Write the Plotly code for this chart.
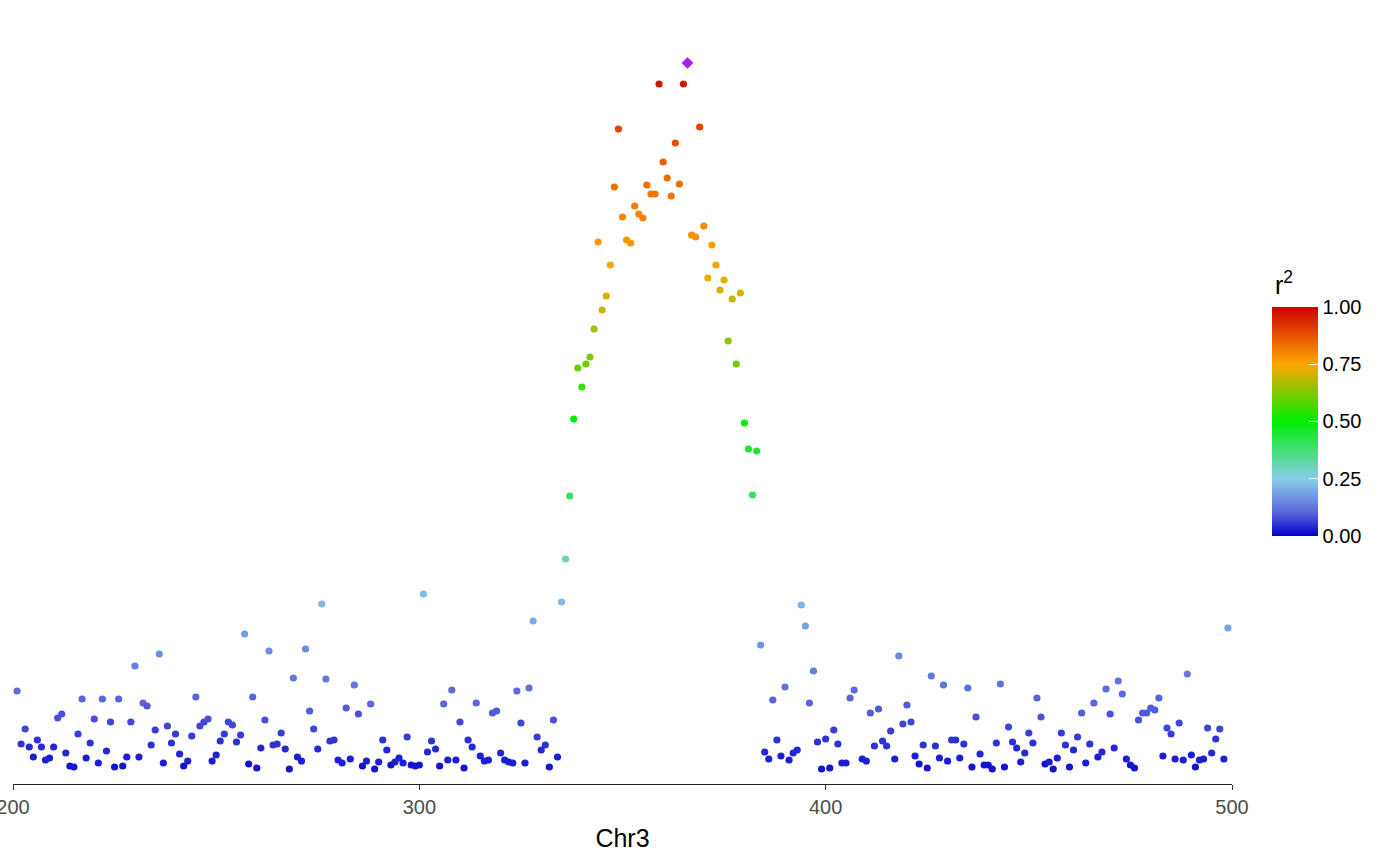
import plotly.graph_objects as go

# ---- data ----
left_pos = [201,202,203,204,205,206,207,208,209,210,211,212,213,214,215,216,217,218,219,220,
            221,222,223,224,225,226,227,228,229,230,231,232,233,234,235,236,237,238,239,240,
            241,242,243,244,245,246,247,248,249,250,251,252,253,254,255,256,257,258,259,260,
            261,262,263,264,265,266,267,268,269,270,271,272,273,274,275,276,277,278,279,280,
            281,282,283,284,285,286,287,288,289,290,291,292,293,294,295,296,297,298,299,300,
            301,302,303,304,305,306,307,308,309,310,311,312,313,314,315,316,317,318,319,320,
            321,322,323,324,325,326,327,328,329,330,331,332,333,334,335]
left_logp = [0.93,0.40,0.55,0.37,0.27,0.44,0.37,0.24,0.26,0.37,
             0.66,0.70,0.31,0.18,0.17,0.50,0.85,0.26,0.41,0.65,
             0.21,0.85,0.33,0.62,0.17,0.85,0.18,0.27,0.62,1.18,
             0.27,0.81,0.78,0.39,0.54,1.30,0.21,0.58,0.41,0.50,
             0.30,0.18,0.23,0.48,0.87,0.58,0.62,0.65,0.23,0.29,
             0.43,0.50,0.62,0.59,0.42,0.49,1.50,0.20,0.87,0.16,
             0.36,0.64,1.33,0.39,0.40,0.51,0.35,0.15,1.06,0.27,
             0.23,1.35,0.73,0.55,0.35,1.80,1.05,0.43,0.44,0.24,
             0.21,0.76,0.25,0.99,0.70,0.18,0.23,0.80,0.15,0.22,
             0.44,0.34,0.19,0.22,0.26,0.21,0.47,0.19,0.18,0.19,
             1.90,0.32,0.43,0.35,0.18,0.80,0.24,0.94,0.24,0.62,
             0.16,0.44,0.37,0.81,0.28,0.23,0.24,0.71,0.73,0.31,
             0.24,0.22,0.21,0.93,0.61,0.21,0.96,1.63,0.47,0.34,
             0.39,0.17,0.64,0.27,1.82]
left_r2 = [0.11,0.05,0.07,0.04,0.03,0.05,0.04,0.03,0.03,0.04,
           0.08,0.08,0.04,0.02,0.02,0.06,0.10,0.03,0.05,0.08,
           0.03,0.10,0.04,0.07,0.02,0.10,0.02,0.03,0.07,0.14,
           0.03,0.10,0.09,0.05,0.06,0.16,0.03,0.07,0.05,0.06,
           0.04,0.02,0.03,0.06,0.10,0.07,0.07,0.08,0.03,0.03,
           0.05,0.06,0.07,0.07,0.05,0.06,0.18,0.02,0.10,0.02,
           0.04,0.08,0.16,0.05,0.05,0.06,0.04,0.02,0.13,0.03,
           0.03,0.16,0.09,0.07,0.04,0.22,0.13,0.05,0.05,0.03,
           0.03,0.09,0.03,0.12,0.08,0.02,0.03,0.10,0.02,0.03,
           0.05,0.04,0.02,0.03,0.03,0.03,0.06,0.02,0.02,0.02,
           0.23,0.04,0.05,0.04,0.02,0.10,0.03,0.11,0.03,0.07,
           0.02,0.05,0.04,0.10,0.03,0.03,0.03,0.09,0.09,0.04,
           0.03,0.03,0.03,0.11,0.07,0.03,0.12,0.20,0.06,0.04,
           0.05,0.02,0.08,0.03,0.22]

peak_pos = [336,337,338,339,340,341,342,343,344,345,
            346,347,348,349,350,351,352,353,354,355,
            356,357,358,359,360,361,362,363,364,365,
            367,368,369,370,371,372,373,374,375,376,
            377,378,379,380,381,382,383]
peak_logp = [2.25,2.88,3.65,4.16,3.97,4.20,4.27,4.55,5.42,4.74,
             4.88,5.19,5.97,6.55,5.67,5.44,5.41,5.78,5.70,5.66,
             5.99,5.90,5.90,7.00,6.22,6.06,5.88,6.41,6.00,7.00,
             5.49,5.47,6.57,5.58,5.06,5.39,5.19,4.94,5.04,4.43,
             4.85,4.20,4.91,3.61,3.35,2.89,3.33]
peak_r2 = [0.30,0.40,0.50,0.60,0.56,0.61,0.62,0.66,0.77,0.69,
           0.71,0.74,0.83,0.90,0.80,0.77,0.77,0.81,0.80,0.80,
           0.83,0.82,0.82,0.97,0.86,0.84,0.82,0.88,0.83,0.97,
           0.78,0.78,0.90,0.79,0.73,0.76,0.74,0.71,0.72,0.64,
           0.70,0.61,0.71,0.50,0.45,0.40,0.45]

right_pos = [384,385,386,387,388,389,390,391,392,393,
             394,395,396,397,398,399,400,401,402,403,
             404,405,406,407,
             409,410,411,412,413,414,415,416,417,418,
             419,420,421,422,423,424,425,426,427,428,
             429,430,431,432,433,434,435,436,437,438,
             439,440,441,442,443,444,445,446,447,448,
             449,450,451,452,453,454,455,456,457,458,
             459,460,461,462,463,464,465,466,467,468,
             469,470,471,472,473,474,475,476,477,478,
             479,480,481,482,483,484,485,486,487,488,
             489,490,491,492,493,494,495,496,497,498,499]
right_logp = [1.39,0.32,0.25,0.84,0.44,0.28,0.97,0.24,0.31,0.34,
              1.79,1.58,0.81,1.13,0.42,0.15,0.45,0.16,0.54,0.40,
              0.21,0.21,0.86,0.94,
              0.25,0.23,0.71,0.38,0.75,0.43,0.38,0.53,0.25,1.28,
              0.60,0.79,0.62,0.28,0.20,0.39,0.16,1.08,0.38,0.26,
              0.99,0.23,0.44,0.44,0.26,0.40,0.96,0.17,0.67,0.30,
              0.19,0.19,0.15,0.41,1.00,0.17,0.57,0.42,0.36,0.22,
              0.31,0.51,0.41,0.86,0.67,0.20,0.22,0.15,0.26,0.51,
              0.39,0.17,0.34,0.47,0.71,0.21,0.40,0.81,0.27,0.32,
              0.95,0.70,0.36,1.03,0.90,0.25,0.19,0.16,0.64,0.71,
              0.71,0.76,0.74,0.86,0.28,0.56,0.50,0.25,0.61,0.24,
              1.10,0.29,0.17,0.24,0.25,0.56,0.31,0.45,0.55,0.25,1.56]
right_r2 = [0.17,0.04,0.03,0.10,0.05,0.03,0.12,0.03,0.04,0.04,
            0.21,0.19,0.10,0.14,0.05,0.02,0.05,0.02,0.06,0.05,
            0.03,0.03,0.10,0.11,
            0.03,0.03,0.09,0.05,0.09,0.05,0.05,0.06,0.03,0.15,
            0.07,0.09,0.07,0.03,0.02,0.05,0.02,0.13,0.05,0.03,
            0.12,0.03,0.05,0.05,0.03,0.05,0.12,0.02,0.08,0.04,
            0.02,0.02,0.02,0.05,0.12,0.02,0.07,0.05,0.04,0.03,
            0.04,0.06,0.05,0.10,0.08,0.02,0.03,0.02,0.03,0.06,
            0.05,0.02,0.04,0.06,0.09,0.03,0.05,0.10,0.03,0.04,
            0.11,0.08,0.04,0.12,0.11,0.03,0.02,0.02,0.08,0.09,
            0.09,0.09,0.09,0.10,0.03,0.07,0.06,0.03,0.07,0.03,
            0.13,0.03,0.02,0.03,0.03,0.07,0.04,0.05,0.07,0.03,0.19]

lead_pos = [366]
lead_logp = [7.21]

x_ticks = [200, 300, 400, 500]
cbar_ticks = [0, 0.25, 0.5, 0.75, 1.0]
cbar_labels = ["0.00", "0.25", "0.50", "0.75", "1.00"]
chrom_label = "Chr3"
legend_title = "r<sup>2</sup>"

pos = left_pos + peak_pos + right_pos
logp = left_logp + peak_logp + right_logp
r2 = left_r2 + peak_r2 + right_r2
assert len(pos) == len(logp) == len(r2)

colorscale = [[0.0, "#0000CD"], [0.1, "#5A64DC"], [0.25, "#87CEEB"], [0.5, "#00EE00"],
              [0.75, "#FFA500"], [1.0, "#CD0000"]]

FONT = "Liberation Sans, Arial, Helvetica, sans-serif"

# page body margin is removed in the written page, so the figure fills the window
FIG_W, FIG_H = 1400, 865
# plot area in page pixels: x 13..1232, y 34..784
L, R, T, B = 13, 1400 - 1232, 34, 865 - 784
PW, PH = FIG_W - L - R, FIG_H - T - B

def px_x(p):
    return (p - L) / PW

def px_y(p):
    return (FIG_H - B - p) / PH

bar_top, bar_bot = 306.7, 536.0
bar_left = 1272.3

fig = go.Figure()
fig.add_trace(go.Scatter(
    x=pos, y=logp, mode="markers",
    marker=dict(
        size=7.2, color=r2, cmin=0, cmax=1, colorscale=colorscale,
        line=dict(width=0),
        colorbar=dict(
            tickvals=cbar_ticks, ticktext=cbar_labels,
            tickfont=dict(size=20, color="black", family=FONT),
            ticks="inside", ticklen=9, tickwidth=1.2, tickcolor="white",
            thickness=46, thicknessmode="pixels",
            len=bar_bot - bar_top, lenmode="pixels",
            x=px_x(bar_left), xanchor="left", xpad=0,
            y=px_y((bar_top + bar_bot) / 2), yanchor="middle", ypad=0,
            outlinewidth=0,
        ),
    ),
    showlegend=False, hoverinfo="x+y",
))
fig.add_trace(go.Scatter(
    x=lead_pos, y=lead_logp, mode="markers",
    marker=dict(symbol="diamond", size=9, color="#A020F0", line=dict(width=0)),
    showlegend=False,
))

# white tick marks on the left edge of the colour bar (ggplot style)
for v in cbar_ticks:
    yy = px_y(bar_bot - v * (bar_bot - bar_top))
    fig.add_shape(type="line", xref="paper", yref="paper",
                  x0=px_x(bar_left), x1=px_x(bar_left + 9), y0=yy, y1=yy,
                  line=dict(color="white", width=1.2), layer="above")

fig.add_annotation(
    text=legend_title, xref="paper", yref="paper",
    x=px_x(1273), y=px_y(283), xanchor="left", yanchor="middle",
    showarrow=False, font=dict(size=25, color="black", family=FONT),
)

fig.update_layout(
    width=FIG_W, height=FIG_H,
    margin=dict(l=L, r=R, t=T, b=B, autoexpand=False),
    paper_bgcolor="white", plot_bgcolor="white",
    font=dict(family=FONT),
    xaxis=dict(
        range=[200, 500], tickvals=x_ticks, showgrid=False, zeroline=False,
        showline=True, linecolor="#222222", linewidth=1.1,
        ticks="outside", ticklen=5, tickwidth=1.1, tickcolor="#333333",
        tickfont=dict(size=20, color="#4D4D4D", family=FONT),
        ticklabeloverflow="allow", automargin=False,
        title=dict(text=chrom_label, font=dict(size=25, color="black", family=FONT),
                   standoff=12),
    ),
    yaxis=dict(range=[0, 7.5], visible=False, showgrid=False, zeroline=False),
)

fig.write_html("out.html", config={"displayModeBar": False},
               post_script="document.body.style.margin='0';")
